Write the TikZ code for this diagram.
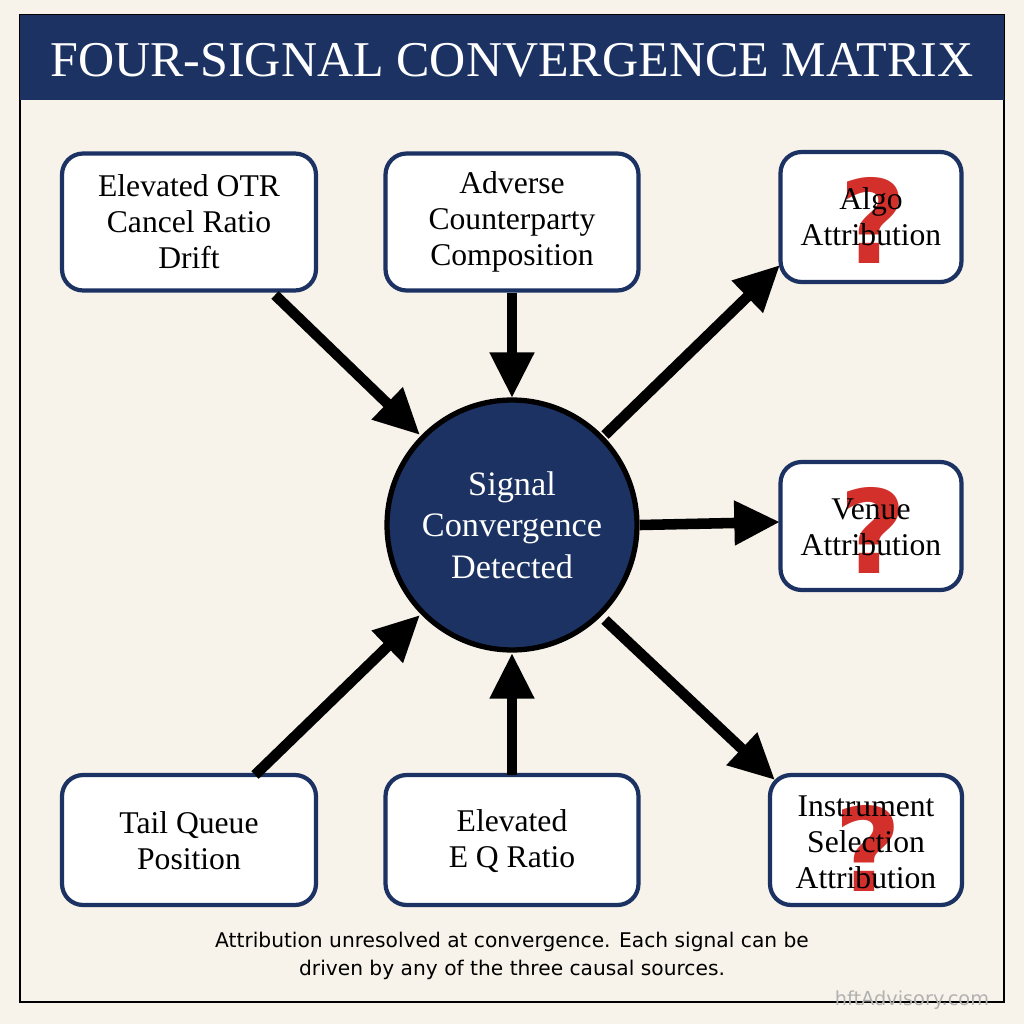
\documentclass[tikz,border=0pt]{standalone}
\usepackage{fontspec}
\setmainfont{Liberation Serif}
\newfontfamily\capfont{DejaVu Sans}
\usetikzlibrary{arrows.meta}
\definecolor{navy}{HTML}{1B3263}
\definecolor{cream}{HTML}{F7F3EA}
\definecolor{qred}{HTML}{D3302B}
\begin{document}
\begin{tikzpicture}[x=0.02cm,y=-0.02cm,
  box/.style={draw=navy,line width=2.4pt,rounded corners=12pt,fill=white,inner sep=0pt},
  lbl/.style={align=center,font=\fontsize{18}{20.5}\selectfont,inner sep=0pt},
  arr/.style={line width=6pt,-{Triangle[width=24pt,length=26pt]}},
  qm/.style={text=qred,font=\capfont\fontsize{66}{66}\selectfont\bfseries}]
\useasboundingbox (0,0) rectangle (1024,1024);
\fill[cream] (0,0) rectangle (1024,1024);
\draw[line width=1.5pt] (20,15) rectangle (1004,1002);
\fill[navy] (20,15) rectangle (1004,100);
\node[text=white,font=\fontsize{28.5}{30}\selectfont] (title) at (512,60) {FOUR-SIGNAL CONVERGENCE MATRIX};
% boxes
\node[box,minimum width=5.08cm,minimum height=2.74cm] (b1) at (189,222) {};
\node[box,minimum width=5.06cm,minimum height=2.74cm] (b2) at (512,222) {};
\node[box,minimum width=3.62cm,minimum height=2.6cm] (b3) at (871,217) {};
\node[box,minimum width=3.62cm,minimum height=2.56cm] (b4) at (871,526) {};
\node[box,minimum width=3.84cm,minimum height=2.6cm] (b5) at (866,840) {};
\node[box,minimum width=5.08cm,minimum height=2.6cm] (b6) at (189,840) {};
\node[box,minimum width=5.06cm,minimum height=2.6cm] (b7) at (512,840) {};
\node[lbl] (t1) at (189,222) {Elevated OTR\\Cancel Ratio\\Drift};
\node[lbl] (t2) at (512,222) {Adverse\\Counterparty\\Composition};
\node[qm] (q3) at (873,220) {?};
\node[lbl] (t3) at (871,217) {Algo\\Attribution};
\node[qm] (q4) at (873,530) {?};
\node[lbl] (t4) at (871,527) {Venue\\Attribution};
\node[qm] (q5) at (868,848) {?};
\node[lbl] (t5) at (866,842) {Instrument\\Selection\\Attribution};
\node[lbl] (t6) at (189,841) {Tail Queue\\Position};
\node[lbl] (t7) at (512,841) {Elevated\\E Q Ratio};
% circle
\node[circle,draw=black,line width=3pt,fill=navy,minimum size=5cm,inner sep=0pt] (c) at (512,525) {};
\node[text=white,align=center,font=\fontsize{19.5}{23.5}\selectfont] (ct) at (512,525) {Signal\\Convergence\\Detected};
\coordinate (a1s) at (275,295); \coordinate (a1e) at (420,435);
\coordinate (a2s) at (512,293); \coordinate (a2e) at (512,398);
\coordinate (a3s) at (605,435); \coordinate (a3e) at (780,265);
\coordinate (a4s) at (640,525); \coordinate (a4e) at (780,522);
\coordinate (a5s) at (605,620); \coordinate (a5e) at (775,780);
\coordinate (a6s) at (255,775); \coordinate (a6e) at (420,615);
\coordinate (a7s) at (512,775); \coordinate (a7e) at (512,653);
\foreach \i in {1,...,7} \draw[arr] (a\i s) -- (a\i e);
\node[align=center,font=\capfont\fontsize{11.5}{16}\selectfont] (cap) at (512,956) {Attribution unresolved at convergence. Each signal can be\\driven by any of the three causal sources.};
\node[text=gray!60,font=\capfont\fontsize{11}{12}\selectfont] (wm) at (912,1000) {hftAdvisory.com};
\end{tikzpicture}
\end{document}
